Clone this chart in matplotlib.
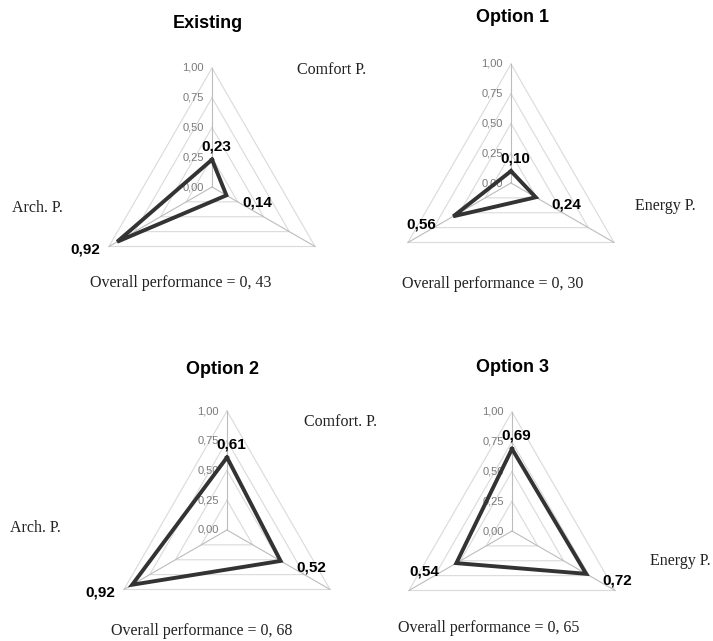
import numpy as np
import matplotlib
matplotlib.use("Agg")
import matplotlib.pyplot as plt

# axis order for every panel: Comfort (top), Energy (lower right), Arch (lower left)
panel_titles = ["Existing", "Option 1", "Option 2", "Option 3"]
comfort = [0.23, 0.10, 0.61, 0.69]
energy = [0.14, 0.24, 0.52, 0.72]
arch = [0.92, 0.56, 0.92, 0.54]
overall = ["0, 43", "0, 30", "0, 68", "0, 65"]
ring_levels = [0.0, 0.25, 0.50, 0.75, 1.00]

# layout (pixels of the 713x641 canvas)
W, H = 713, 641
R = 119.0       # radius of the 1,00 ring in px
HALF = 150.0    # half size of each panel axes in px
centers = [(212, 187), (511, 183), (227, 530), (512, 531)]
title_pos = [(208, 23), (512, 18), (222, 370), (512, 367)]
overall_pos = [(181, 283), (493, 284), (202, 631), (489, 628)]
axis_labels = [("Comfort P.", 297, 70), ("Arch. P.", 12, 208), ("Energy P.", 635, 206),
               ("Comfort. P.", 304, 422), ("Arch. P.", 10, 528), ("Energy P.", 650, 561)]

angles = np.deg2rad([90, -30, 210])
label_off = [(4, 13), (31, -7), (-32, -8)]   # px offsets of the value labels

serif = "Liberation Serif"
sans = "Liberation Sans"


def fx(x):
    return x / W


def fy(y):
    return 1 - y / H


fig = plt.figure(figsize=(W / 100, H / 100), dpi=100)
fig.patch.set_facecolor("white")

for i, title in enumerate(panel_titles):
    cx, cy = centers[i]
    ax = fig.add_axes([fx(cx - HALF), fy(cy + HALF), 2 * HALF / W, 2 * HALF / H])
    ax.set_xlim(-HALF / R, HALF / R)
    ax.set_ylim(-HALF / R, HALF / R)
    ax.set_facecolor("none")
    ax.axis("off")

    ca, sa = np.cos(angles), np.sin(angles)
    closed = np.r_[np.arange(3), 0]

    # triangular grid rings and spokes
    for lv in ring_levels[1:]:
        ax.plot(lv * ca[closed], lv * sa[closed], color="#dadada", lw=0.8, zorder=1)
    for k in range(3):
        ax.plot([0, ca[k]], [0, sa[k]], color="#bcbcbc", lw=0.8, zorder=1)
    for lv in ring_levels:
        ax.text(-0.07, lv, f"{lv:.2f}".replace(".", ","), ha="right", va="center",
                fontsize=8, color="#7a7a7a", family=sans, zorder=2)

    vals = np.array([comfort[i], energy[i], arch[i]])
    xs, ys = vals * ca, vals * sa
    ax.plot(xs[closed], ys[closed], color="#333333", lw=2.8,
            solid_joinstyle="miter", zorder=3)
    for k in range(3):
        dx, dy = label_off[k]
        ax.text(xs[k] + dx / R, ys[k] + dy / R, f"{vals[k]:.2f}".replace(".", ","),
                ha="center", va="center", fontsize=11, fontweight="bold",
                family=sans, color="black", zorder=4)

    tx, ty = title_pos[i]
    fig.text(fx(tx), fy(ty), title, ha="center", va="center", fontsize=13,
             fontweight="bold", family=sans, color="black")
    ox, oy = overall_pos[i]
    fig.text(fx(ox), fy(oy), f"Overall performance = {overall[i]}", ha="center",
             va="center", fontsize=11.5, family=serif, color="#222222")

for name, x, y in axis_labels:
    fig.text(fx(x), fy(y), name, ha="left", va="center", fontsize=11.5,
             family=serif, color="#222222")

fig.savefig("out.png", dpi=100)
